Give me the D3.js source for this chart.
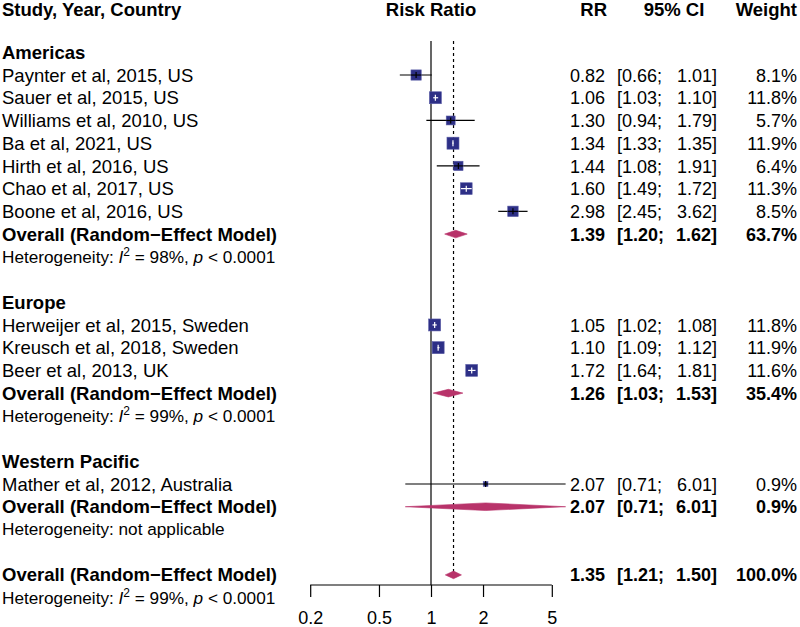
<!DOCTYPE html>
<html><head><meta charset="utf-8">
<script src="https://cdn.jsdelivr.net/npm/d3@7"></script>
<style>
body{margin:0;background:#fff;}
svg text{font-family:"Liberation Sans",Arial,sans-serif;fill:#000;}
</style></head>
<body><svg id="c" width="800" height="627"></svg>
<script>
// ---- data ----
const groups = ["Americas","Europe","Western Pacific"];
const studies = ["Paynter et al, 2015, US","Sauer et al, 2015, US","Williams et al, 2010, US","Ba et al, 2021, US","Hirth et al, 2016, US","Chao et al, 2017, US","Boone et al, 2016, US",
  "Herweijer et al, 2015, Sweden","Kreusch et al, 2018, Sweden","Beer et al, 2013, UK",
  "Mather et al, 2012, Australia"];
const studyGroup = [0,0,0,0,0,0,0,1,1,1,2];
const rr     = [0.82,1.06,1.30,1.34,1.44,1.60,2.98, 1.05,1.10,1.72, 2.07];
const ciLow  = [0.66,1.03,0.94,1.33,1.08,1.49,2.45, 1.02,1.09,1.64, 0.71];
const ciHigh = [1.01,1.10,1.79,1.35,1.91,1.72,3.62, 1.08,1.12,1.81, 6.01];
const weight = [8.1,11.8,5.7,11.9,6.4,11.3,8.5, 11.8,11.9,11.6, 0.9];
const groupRR   = [1.39,1.26,2.07];
const groupLow  = [1.20,1.03,0.71];
const groupHigh = [1.62,1.53,6.01];
const groupW    = [63.7,35.4,0.9];
const groupI2   = ["98%","99%",null];
const overallRR = 1.35, overallLow = 1.21, overallHigh = 1.50, overallW = 100.0, overallI2 = "99%";
const ticks = [0.2,0.5,1,2,5];
const modelLabel = "Overall (Random\u2212Effect Model)";

// ---- layout ----
const svg = d3.select("#c");
const x = d3.scaleLog().domain([0.2,5]).range([310.2,551.8]);
const y = d3.scaleLinear().domain([0,24]).range([52.3,597.6]);
const navy = "#2d2f86", pink = "#b8336a";
const FS = 18.5, NFS = 18, HFS = 17.2;
const colRR = 605, colLo = 617, colHi = 717, colW = 797;
const f = v => v.toFixed(2);

// build row list
const rows = [];
let r = 0;
groups.forEach((g,gi)=>{
  rows.push({type:"group",label:g,row:r++});
  studies.forEach((s,i)=>{ if(studyGroup[i]===gi) rows.push({type:"study",i,row:r++}); });
  rows.push({type:"sub",gi,row:r++});
  rows.push({type:"het",i2:groupI2[gi],row:r++});
  r++;
});
rows.push({type:"total",row:r++});
rows.push({type:"het",i2:overallI2,row:r++});

// headers
const HY = 16;
const hdr = svg.append("g").attr("font-weight","bold").attr("font-size",FS);
hdr.append("text").attr("x",2).attr("y",HY).text("Study, Year, Country");
hdr.append("text").attr("x",x(1)).attr("y",HY).attr("text-anchor","middle").text("Risk Ratio");
hdr.append("text").attr("x",607).attr("y",HY).attr("text-anchor","end").text("RR");
hdr.append("text").attr("x",674).attr("y",HY).attr("text-anchor","middle").text("95% CI");
hdr.append("text").attr("x",colW).attr("y",HY).attr("text-anchor","end").text("Weight");

const axisY = 585;
// reference lines
svg.append("line").attr("x1",x(1)).attr("x2",x(1)).attr("y1",y(-0.5)).attr("y2",axisY)
  .attr("stroke","#000").attr("stroke-width",1.2);
svg.append("line").attr("x1",x(overallRR)).attr("x2",x(overallRR)).attr("y1",y(-0.5)).attr("y2",y(23))
  .attr("stroke","#000").attr("stroke-width",1.2).attr("stroke-dasharray","3,3");

const BO = 6.6;
function valueText(g, yy, est, lo, hi, w, bold){
  const t = g.append("g").attr("font-size",NFS).attr("font-weight",bold?"bold":"normal");
  t.append("text").attr("x",colRR).attr("y",yy+BO).attr("text-anchor","end").text(f(est));
  t.append("text").attr("x",colLo).attr("y",yy+BO).text("["+f(lo)+";");
  t.append("text").attr("x",colHi).attr("y",yy+BO).attr("text-anchor","end").text(f(hi)+"]");
  t.append("text").attr("x",colW).attr("y",yy+BO).attr("text-anchor","end").text(w.toFixed(1)+"%");
}
function diamond(yy, est, lo, hi){
  const h = 3.8;
  svg.append("path").attr("d",`M${x(lo)},${yy}L${x(est)},${yy-h}L${x(hi)},${yy}L${x(est)},${yy+h}Z`)
    .attr("fill",pink).attr("stroke",pink).attr("stroke-width",0.6);
}

rows.forEach(d=>{
  const yy = y(d.row);
  if(d.type==="group"){
    svg.append("text").attr("x",2).attr("y",yy+BO).attr("font-size",FS).attr("font-weight","bold").text(d.label);
  } else if(d.type==="study"){
    const i = d.i;
    svg.append("text").attr("x",2).attr("y",yy+BO).attr("font-size",FS).text(studies[i]);
    const s = 2 + 2.9*Math.sqrt(weight[i]);
    const cx = x(rr[i]);
    const inside = x(ciLow[i]) >= cx - s/2 && x(ciHigh[i]) <= cx + s/2;
    const col = inside ? "#fff" : "#000";
    if(!inside) svg.append("line").attr("x1",x(ciLow[i])).attr("x2",x(ciHigh[i])).attr("y1",yy).attr("y2",yy).attr("stroke","#000").attr("stroke-width",1.2);
    svg.append("rect").attr("x",cx-s/2).attr("y",yy-s/2).attr("width",s).attr("height",s)
      .attr("fill",navy).attr("stroke","#5a5ca6").attr("stroke-width",0.6);
    if(inside) svg.append("line").attr("x1",x(ciLow[i])).attr("x2",x(ciHigh[i])).attr("y1",yy).attr("y2",yy).attr("stroke",col).attr("stroke-width",1.2);
    else svg.append("line").attr("x1",Math.max(x(ciLow[i]),cx-s/2)).attr("x2",Math.min(x(ciHigh[i]),cx+s/2)).attr("y1",yy).attr("y2",yy).attr("stroke",col).attr("stroke-width",1.2);
    svg.append("line").attr("x1",cx).attr("x2",cx).attr("y1",yy-3).attr("y2",yy+3).attr("stroke",col).attr("stroke-width",1.2);
    valueText(svg, yy, rr[i], ciLow[i], ciHigh[i], weight[i], false);
  } else if(d.type==="sub" || d.type==="total"){
    svg.append("text").attr("x",2).attr("y",yy+BO).attr("font-size",FS).attr("font-weight","bold").text(modelLabel);
    if(d.type==="sub"){
      diamond(yy, groupRR[d.gi], groupLow[d.gi], groupHigh[d.gi]);
      valueText(svg, yy, groupRR[d.gi], groupLow[d.gi], groupHigh[d.gi], groupW[d.gi], true);
    } else {
      diamond(yy, overallRR, overallLow, overallHigh);
      valueText(svg, yy, overallRR, overallLow, overallHigh, overallW, true);
    }
  } else if(d.type==="het"){
    const t = svg.append("text").attr("x",2).attr("y",yy+6).attr("font-size",HFS);
    if(d.i2===null){ t.text("Heterogeneity: not applicable"); }
    else {
      t.append("tspan").text("Heterogeneity: ");
      t.append("tspan").attr("font-style","italic").text("I");
      t.append("tspan").attr("font-size",12).attr("dy",-7).text("2");
      t.append("tspan").attr("dy",7).text(" = "+d.i2+", ");
      t.append("tspan").attr("font-style","italic").text("p");
      t.append("tspan").text(" < 0.0001");
    }
  }
});

// axis
const ax = svg.append("g").attr("transform",`translate(0,${axisY})`)
  .call(d3.axisBottom(x).tickValues(ticks).tickFormat(d=>String(d)).tickSize(12).tickPadding(14));
ax.select(".domain").attr("stroke","#000").attr("stroke-width",1.2).attr("d",`M${x(0.2)},0H${x(5)}`);
ax.selectAll(".tick line").attr("stroke","#000").attr("stroke-width",1.2);
ax.selectAll(".tick text").attr("font-size",NFS).attr("font-family","Liberation Sans, Arial, sans-serif").attr("fill","#000");
</script></body></html>
